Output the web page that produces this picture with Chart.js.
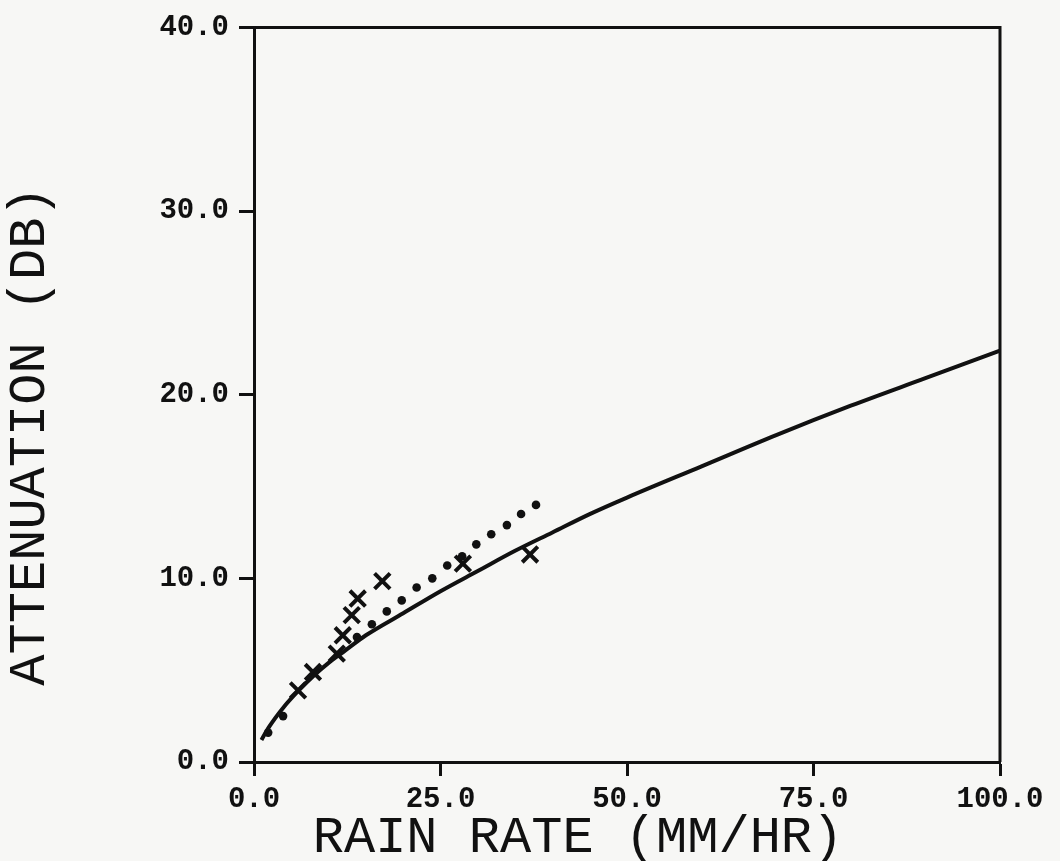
<!DOCTYPE html>
<html>
<head>
<meta charset="utf-8">
<style>
  html, body { margin: 0; padding: 0; background: #f7f7f5; }
  #wrap { width: 1060px; height: 861px; }
</style>
<script src="https://cdn.jsdelivr.net/npm/chart.js@4.4.1/dist/chart.umd.min.js"></script>
</head>
<body>
<div id="wrap"><canvas id="chart" width="1060" height="861"></canvas></div>
<script>
// fitted attenuation curve
const curveRate = [1.0, 2, 4, 6, 8, 10, 12, 15, 20, 25, 30, 35, 40, 45, 50, 60, 70, 80, 90, 100];
const curveAtten = [1.2, 1.9, 3.0, 3.9, 4.7, 5.4, 6.0, 6.9, 8.1, 9.3, 10.4, 11.5, 12.5, 13.5, 14.4, 16.1, 17.8, 19.4, 20.9, 22.4];

// measured points (X marks)
const crossRate = [5.9, 7.9, 11.1, 11.9, 13.1, 13.9, 17.2, 28.0, 37.0];
const crossAtten = [3.9, 4.9, 5.9, 6.9, 8.0, 8.9, 9.85, 10.8, 11.3];

// dotted series
const dotRate = [1.9, 3.9, 13.8, 15.8, 17.8, 19.8, 21.8, 23.9, 25.9, 27.9, 29.8, 31.8, 33.9, 35.8, 37.8];
const dotAtten = [1.6, 2.5, 6.8, 7.5, 8.2, 8.8, 9.5, 10.0, 10.7, 11.2, 11.85, 12.4, 12.9, 13.5, 14.0];

const xTitle = 'RAIN RATE (MM/HR)';
const yTitle = 'ATTENUATION (DB)';

const toPoints = (xs, ys) => xs.map((x, i) => ({ x, y: ys[i] }));

const tickFont = { family: 'Liberation Mono', size: 29, weight: 'bold' };
const titleFont = '52px "Liberation Mono"';

// box frame + axis titles
const framePlugin = {
  id: 'frame',
  afterDraw(chart) {
    const { ctx, chartArea: a } = chart;
    ctx.save();
    ctx.strokeStyle = '#111';
    ctx.lineWidth = 3;
    ctx.beginPath();
    ctx.moveTo(a.left, a.top);
    ctx.lineTo(a.right, a.top);
    ctx.lineTo(a.right, a.bottom);
    ctx.stroke();

    ctx.fillStyle = '#111';
    ctx.font = titleFont;
    ctx.textAlign = 'center';
    ctx.textBaseline = 'middle';
    ctx.fillText(xTitle, 578, 838);
    ctx.translate(30, 436);
    ctx.rotate(-Math.PI / 2);
    ctx.fillText(yTitle, 0, 0);
    ctx.restore();
  },
};

new Chart(document.getElementById('chart').getContext('2d'), {
  type: 'scatter',
  data: {
    datasets: [
      {
        data: toPoints(curveRate, curveAtten),
        showLine: true,
        borderColor: '#111',
        borderWidth: 4,
        pointRadius: 0,
        cubicInterpolationMode: 'monotone',
      },
      {
        data: toPoints(dotRate, dotAtten),
        pointStyle: 'circle',
        pointRadius: 4.3,
        backgroundColor: '#111',
        borderWidth: 0,
      },
      {
        data: toPoints(crossRate, crossAtten),
        pointStyle: 'crossRot',
        pointRadius: 11,
        borderColor: '#111',
        borderWidth: 4,
      },
    ],
  },
  options: {
    responsive: false,
    animation: false,
    layout: { padding: { top: 23, right: 60, left: 0, bottom: 0 } },
    plugins: { legend: { display: false }, tooltip: { enabled: false } },
    scales: {
      x: {
        type: 'linear',
        min: 0,
        max: 100,
        afterFit: s => { s.height = 99; },
        ticks: {
          stepSize: 25,
          color: '#111',
          font: tickFont,
          padding: 6,
          maxRotation: 0,
          callback: v => v.toFixed(1),
        },
        grid: { drawOnChartArea: false, tickLength: 14, tickWidth: 3, tickColor: '#111' },
        border: { color: '#111', width: 3 },
      },
      y: {
        type: 'linear',
        min: 0,
        max: 40,
        afterFit: s => { s.width = 254; },
        ticks: {
          stepSize: 10,
          color: '#111',
          font: tickFont,
          padding: 10,
          callback: v => v.toFixed(1),
        },
        grid: { drawOnChartArea: false, tickLength: 15, tickWidth: 3, tickColor: '#111' },
        border: { color: '#111', width: 3 },
      },
    },
  },
  plugins: [framePlugin],
});
</script>
</body>
</html>
